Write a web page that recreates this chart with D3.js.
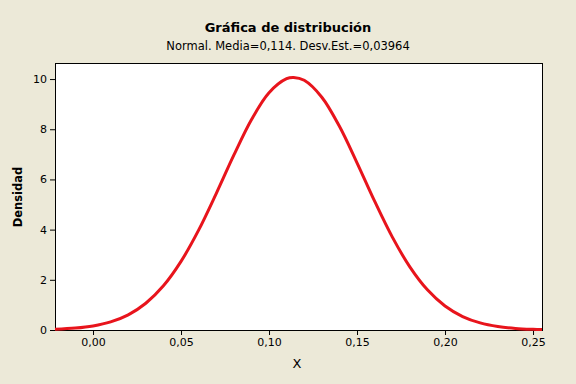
<!DOCTYPE html>
<html>
<head>
<meta charset="utf-8">
<script src="https://cdn.jsdelivr.net/npm/d3@7"></script>
<style>
body { margin: 0; background: #ECE9D8; }
svg { display: block; }
text { font-family: "DejaVu Sans", Verdana, sans-serif; fill: #000; }
</style>
</head>
<body>
<svg id="chart" width="576" height="384"></svg>
<script>
// density values
var xValues = [-0.0216, -0.01, 0.00, 0.01, 0.02, 0.03, 0.04, 0.05, 0.06, 0.07, 0.08, 0.09, 0.10, 0.11, 0.114,
	0.12, 0.13, 0.14, 0.15, 0.16, 0.17, 0.18, 0.19, 0.20, 0.21, 0.22, 0.23, 0.24, 0.25, 0.2551];
var densValues = [0.028, 0.076, 0.161, 0.322, 0.605, 1.066, 1.761, 2.734, 3.978, 5.436, 6.965, 8.378, 9.455, 10.013, 10.064,
	9.950, 9.277, 8.117, 6.663, 5.133, 3.711, 2.517, 1.601, 0.956, 0.536, 0.282, 0.139, 0.064, 0.028, 0.018];
var xTicks = [0.00, 0.05, 0.10, 0.15, 0.20, 0.25];
var yTicks = [0, 2, 4, 6, 8, 10];

var title = "Gráfica de distribución";
var subtitle = "Normal. Media=0,114. Desv.Est.=0,03964";

function drawChart()
{
	var svg = d3.select("#chart");
	var pLeft = 55, pRight = 542, pTop = 63, pBottom = 330;

	var x = d3.scaleLinear().domain([-0.0216, 0.2551]).range([pLeft, pRight]);
	var y = d3.scaleLinear().domain([0, 10.64]).range([pBottom, pTop]);

	svg.append("rect").attr("width", 576).attr("height", 384).attr("fill", "#ECE9D8");

	svg.append("rect")
		.attr("x", pLeft + 0.5).attr("y", pTop + 0.5)
		.attr("width", pRight - pLeft).attr("height", pBottom - pTop)
		.attr("fill", "#fff")
		.attr("stroke", "#000").attr("stroke-width", 1);

	var fmt = function(d) { return d3.format(".2f")(d).replace(".", ","); };

	var xAxis = svg.append("g")
		.attr("transform", "translate(0," + pBottom + ")")
		.call(d3.axisBottom(x).tickValues(xTicks).tickFormat(fmt).tickSize(5).tickPadding(3));
	var yAxis = svg.append("g")
		.attr("transform", "translate(" + pLeft + ",0)")
		.call(d3.axisLeft(y).tickValues(yTicks).tickSize(5).tickPadding(3));

	[xAxis, yAxis].forEach(function(g) {
		g.select(".domain").remove();
		g.selectAll("line").attr("stroke", "#000");
		g.selectAll("text").style("font-family", "DejaVu Sans").style("font-size", "11px").attr("fill", "#000");
	});

	var pts = xValues.map(function(v, i) { return [v, densValues[i]]; });
	var line = d3.line()
		.x(function(d) { return x(d[0]); })
		.y(function(d) { return y(d[1]); })
		.curve(d3.curveCatmullRom);

	svg.append("path")
		.datum(pts)
		.attr("d", line)
		.attr("fill", "none")
		.attr("stroke", "#E8141C")
		.attr("stroke-width", 3)
		.attr("stroke-linejoin", "round");

	svg.append("text")
		.attr("x", 288).attr("y", 32)
		.attr("text-anchor", "middle")
		.style("font-size", "13px").style("font-weight", "bold")
		.text(title);
	svg.append("text")
		.attr("x", 288).attr("y", 50)
		.attr("text-anchor", "middle")
		.style("font-size", "11.5px")
		.text(subtitle);

	svg.append("text")
		.attr("transform", "translate(22,197) rotate(-90)")
		.attr("text-anchor", "middle")
		.style("font-size", "11.5px").style("font-weight", "bold")
		.text("Densidad");

	svg.append("text")
		.attr("x", 297).attr("y", 368)
		.attr("text-anchor", "middle")
		.style("font-size", "13px")
		.text("X");
}

drawChart();
</script>
</body>
</html>
